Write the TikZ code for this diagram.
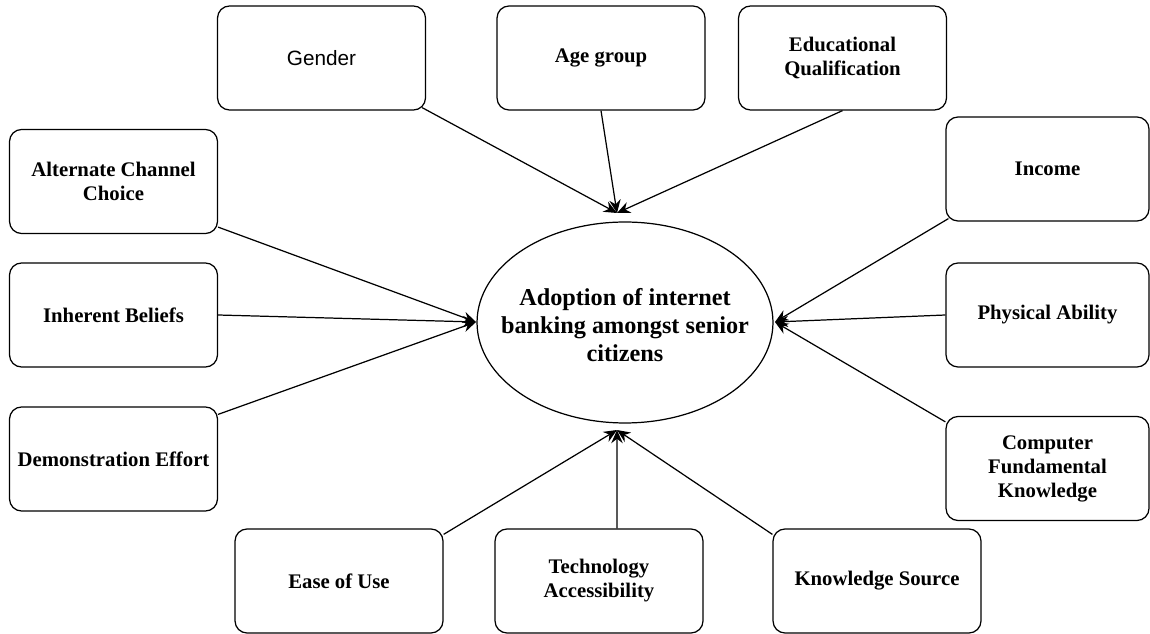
\documentclass[tikz,border=0pt]{standalone}
\usepackage{fontspec}
\setmainfont{Liberation Serif}
\newfontfamily\gendfont{Liberation Sans}
\usetikzlibrary{arrows.meta}
\usetikzlibrary{shapes.geometric}

\begin{document}
\begin{tikzpicture}[x=0.02cm,y=-0.02cm,
	arr/.style={line width=0.7pt,-{Stealth[length=7.5pt,width=6.5pt,inset=2.5pt]}}]
	\useasboundingbox (0,0) rectangle (1150,634);
	\begin{scope}[every node/.style={draw,rounded corners=0.24cm,line width=0.7pt,minimum width=4.16cm,minimum height=2.08cm,align=center,font=\fontsize{11.8}{13.7}\selectfont\bfseries}]
	\node (G) at (321.5,58) {\gendfont\mdseries Gender};
	\node (AG) at (601,58) {Age group};
	\node (EQ) at (842.5,58) {Educational\\Qualification};
	\node (AC) at (113.5,181.5) {Alternate Channel\\Choice};
	\node (IB) at (113.5,315) {Inherent Beliefs};
	\node (DE) at (113.5,459) {Demonstration Effort};
	\node (IN) at (1047.5,169) [minimum width=4.06cm] {Income};
	\node (PA) at (1047.5,315) [minimum width=4.06cm] {Physical Ability};
	\node (CF) at (1047.5,468.5) [minimum width=4.06cm] {Computer\\Fundamental\\Knowledge};
	\node (EU) at (339,581) {Ease of Use};
	\node (TA) at (599,581) {Technology\\Accessibility};
	\node (KS) at (877,581) {Knowledge Source};
	\end{scope}
	
	\node (AD) at (625,322.5) [draw,ellipse,line width=0.7pt,minimum width=5.92cm,minimum height=4.02cm,
		label={[align=center,font=\fontsize{13.8}{15.9}\selectfont\bfseries,yshift=-0.05cm]center:Adoption of internet\\banking amongst senior\\citizens}] {};
	
	\coordinate (inT) at (617,213);
	\coordinate (inL) at (476,322);
	\coordinate (inR) at (775,322);
	\coordinate (inB) at (617,430);
	
	\draw [arr] ([xshift=-0.08cm,yshift=0.06cm]G.south east) -- (inT);
	\draw [arr] (AG.south) -- (inT);
	\draw [arr] (EQ.south) -- (inT);
	\draw [arr] ([yshift=0.14cm]AC.south east) -- (inL);
	\draw [arr] (IB.east) -- (inL);
	\draw [arr] ([yshift=-0.16cm]DE.north east) -- (inL);
	\draw [arr] ([xshift=0.06cm,yshift=0.06cm]IN.south west) -- (inR);
	\draw [arr] (PA.west) -- (inR);
	\draw [arr] ([yshift=-0.12cm]CF.north west) -- (inR);
	\draw [arr] ([yshift=-0.12cm]EU.north east) -- (inB);
	\draw [arr] ([xshift=0.36cm]TA.north) -- (inB);
	\draw [arr] ([yshift=-0.12cm]KS.north west) -- (inB);
\end{tikzpicture}
\end{document}
